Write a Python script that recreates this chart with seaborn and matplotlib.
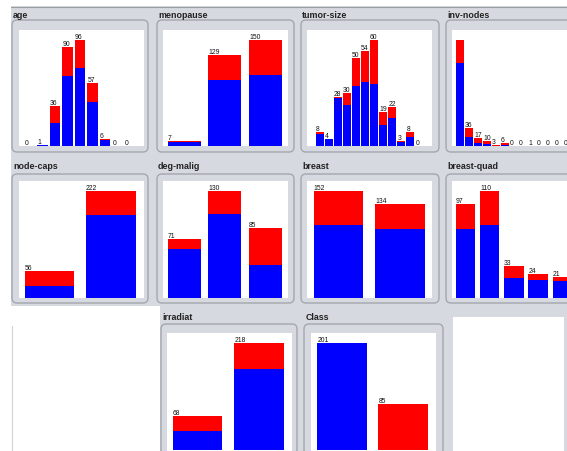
import matplotlib
matplotlib.use("Agg")
import matplotlib.pyplot as plt
from matplotlib.patches import FancyBboxPatch, Rectangle
import pandas as pd
import seaborn as sns

# ---- attribute histograms of the breast-cancer data, split by class ----
age_bins = ["10-19", "20-29", "30-39", "40-49", "50-59", "60-69", "70-79", "80-89", "90-99"]
age_norec = [0, 1, 21, 63, 71, 40, 5, 0, 0]
age_rec = [0, 0, 15, 27, 25, 17, 1, 0, 0]

meno_bins = ["lt40", "ge40", "premeno"]
meno_norec = [6, 94, 101]
meno_rec = [1, 35, 49]

tumor_bins = ["0-4", "5-9", "10-14", "15-19", "20-24", "25-29", "30-34",
              "35-39", "40-44", "45-49", "50-54", "55-59"]
tumor_norec = [7, 4, 27, 23, 34, 36, 35, 12, 16, 2, 5, 0]
tumor_rec = [1, 0, 1, 7, 16, 18, 25, 7, 6, 1, 3, 0]

inv_bins = ["0-2", "3-5", "6-8", "9-11", "12-14", "15-17", "18-20", "21-23",
            "24-26", "27-29", "30-32", "33-35", "36-39"]
inv_norec = [167, 19, 7, 4, 1, 3, 0, 0, 0, 0, 0, 0, 0]
inv_rec = [46, 17, 10, 6, 2, 3, 0, 0, 1, 0, 0, 0, 0]

caps_bins = ["yes", "no"]
caps_norec = [25, 171]
caps_rec = [31, 51]

deg_bins = ["1", "2", "3"]
deg_norec = [59, 102, 40]
deg_rec = [12, 28, 45]

breast_bins = ["left", "right"]
breast_norec = [103, 98]
breast_rec = [49, 36]

quad_bins = ["left_up", "left_low", "right_up", "right_low", "central"]
quad_norec = [71, 75, 20, 18, 17]
quad_rec = [26, 35, 13, 6, 4]

irr_bins = ["yes", "no"]
irr_norec = [37, 164]
irr_rec = [31, 54]

class_bins = ["no-recurrence-events", "recurrence-events"]
class_norec = [201, 0]
class_rec = [0, 85]

W, H = 567, 452
BG = "#d6d9df"
FRAME = "#a3a7ae"

sns.set_theme(style="white")
plt.rcParams["font.family"] = ["Liberation Sans", "DejaVu Sans"]

fig = plt.figure(figsize=(W / 100, H / 100), dpi=100)
fig.patch.set_facecolor("white")

# pixel-space canvas for the window chrome
bg = fig.add_axes([0, 0, 1, 1], zorder=-5)
bg.set_xlim(0, W)
bg.set_ylim(H, 0)
bg.set_axis_off()
bg.add_patch(Rectangle((11, 7), W - 11, H - 7, facecolor=BG, edgecolor="none"))
bg.plot([11, W], [7.5, 7.5], color="#9a9ea5", lw=0.8)
bg.add_patch(Rectangle((11, 307), 149, H - 307, facecolor="white", edgecolor="none"))
bg.plot([12, 12], [327, H], color="#d0d2d6", lw=0.8)
bg.add_patch(Rectangle((453, 318), 111, H - 318, facecolor="white", edgecolor="none"))


def px_axes(x0, y0, x1, y1, **kw):
    return fig.add_axes([x0 / W, 1 - y1 / H, (x1 - x0) / W, (y1 - y0) / H], **kw)


def panel(title, bins, norec, rec, frame, white, title_xy, base, first, pitch, width,
          top_gap=10):
    fx0, fy0, fx1, fy1 = frame
    bg.add_patch(FancyBboxPatch((fx0, fy0), fx1 - fx0, fy1 - fy0,
                                boxstyle="round,pad=0,rounding_size=5",
                                facecolor=BG, edgecolor=FRAME, lw=1.0))
    wx0, wy0, wx1, wy1 = white
    bg.add_patch(Rectangle((wx0, wy0), wx1 - wx0, wy1 - wy0,
                           facecolor="white", edgecolor="none"))
    bg.text(title_xy[0], title_xy[1], title, fontsize=6.4, fontweight="bold",
            color="#222222", ha="left", va="baseline")

    totals = [a + b for a, b in zip(norec, rec)]
    df = pd.DataFrame({"bin": bins, "norec": norec, "total": totals})

    ax = px_axes(wx0, wy0, wx1, base)
    ax.patch.set_alpha(0)
    bw = width / pitch
    sns.barplot(data=df, x="bin", y="total", order=bins, color="#ff0000",
                saturation=1, width=bw, linewidth=0, ax=ax)
    sns.barplot(data=df, x="bin", y="norec", order=bins, color="#0000ff",
                saturation=1, width=bw, linewidth=0, ax=ax)
    c0 = first + width / 2
    ax.set_xlim((wx0 - c0) / pitch, (wx1 - c0) / pitch)
    ymax = max(totals)
    span = base - wy0
    ax.set_ylim(0, ymax * span / (span - top_gap))
    ax.set_axis_off()

    for i, t in enumerate(totals):
        txt = str(t)
        if len(txt) * 3.1 >= pitch:
            continue  # count too wide for its bar
        ax.text(i - bw / 2, t, txt, fontsize=4.9, color="#111111",
                ha="left", va="bottom", clip_on=False)
    return ax


r1f, r2f, r3f = (21, 153), (175, 304), (325, 456)
r1w, r2w, r3w = (31, 147.3), (182, 299), (334, 452)
r1b, r2b, r3b = 147, 298.5, 450.5

panel("age", age_bins, age_norec, age_rec, (12, r1f[0], 148, r1f[1]),
      (19, r1w[0], 144, r1w[1]), (13, 18), r1b, 24.8, 12.5, 10.4)
panel("menopause", meno_bins, meno_norec, meno_rec, (157, r1f[0], 294, r1f[1]),
      (163, r1w[0], 288, r1w[1]), (158, 18), r1b, 167.7, 40.65, 33)
panel("tumor-size", tumor_bins, tumor_norec, tumor_rec, (301, r1f[0], 439, r1f[1]),
      (307, r1w[0], 432, r1w[1]), (302, 18), r1b, 315.7, 9.06, 8)
panel("inv-nodes", inv_bins, inv_norec, inv_rec, (446, r1f[0], 590, r1f[1]),
      (452, r1w[0], 590, r1w[1]), (447, 18), r1b, 456, 9, 8)

panel("node-caps", caps_bins, caps_norec, caps_rec, (12, r2f[0], 148, r2f[1]),
      (19, r2w[0], 144, r2w[1]), (13, 169), r2b, 25, 61, 49.5)
panel("deg-malig", deg_bins, deg_norec, deg_rec, (157, r2f[0], 294, r2f[1]),
      (163, r2w[0], 288, r2w[1]), (158, 169), r2b, 167.7, 40.65, 33)
panel("breast", breast_bins, breast_norec, breast_rec, (301, r2f[0], 439, r2f[1]),
      (307, r2w[0], 432, r2w[1]), (302, 169), r2b, 313.7, 61.3, 49.7)
panel("breast-quad", quad_bins, quad_norec, quad_rec, (446, r2f[0], 590, r2f[1]),
      (452, r2w[0], 590, r2w[1]), (447, 169), r2b, 455.7, 24.25, 19.5)

panel("irradiat", irr_bins, irr_norec, irr_rec, (161, r3f[0], 297, r3f[1]),
      (167, r3w[0], 292, r3w[1]), (162, 320.5), r3b, 172.7, 61.7, 49.7)
panel("Class", class_bins, class_norec, class_rec, (304, r3f[0], 443, r3f[1]),
      (311, r3w[0], 436, r3w[1]), (306, 320.5), r3b, 317.3, 61, 49.5)

fig.savefig("out.png", dpi=100, facecolor=fig.get_facecolor())
